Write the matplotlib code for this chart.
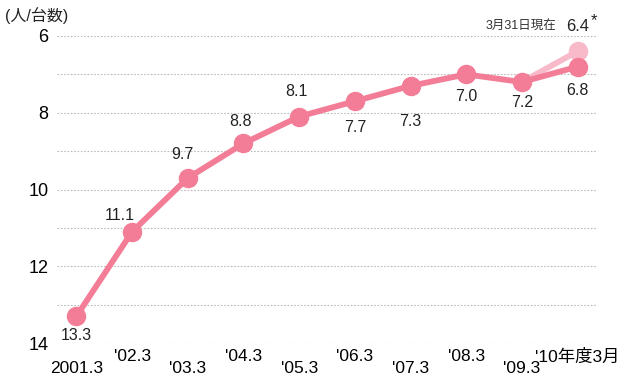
import matplotlib.pyplot as plt
from matplotlib.transforms import ScaledTranslation
import numpy as np

plt.rcParams['font.family'] = ['Liberation Sans', 'Noto Sans CJK JP']

# data
years = ['2001.3', "'02.3", "'03.3", "'04.3", "'05.3", "'06.3", "'07.3", "'08.3", "'09.3", "'10年度3月"]
values = [13.3, 11.1, 9.7, 8.8, 8.1, 7.7, 7.3, 7.0, 7.2, 6.8]
latest_value = 6.4
latest_note = '3月31日現在'

# label offsets in points (dx, dy)
label_offsets = [(0, -14), (-9, 12), (-4, 17), (-2, 16), (-2, 18), (0, -19),
                 (0, -26), (0, -16), (0, -15), (0, -17)]

MAIN = '#F37C97'
LIGHT = '#F8B9C9'

fig = plt.figure(figsize=(6.26, 3.76), dpi=100)
ax = fig.add_axes([57 / 626, 1 - 343 / 376, 540 / 626, 307 / 376])

x = np.arange(len(values))

# light line to the 3/31 value
ax.plot([x[-2], x[-1]], [values[-2], latest_value], color=LIGHT, lw=4.2,
        solid_capstyle='round', zorder=2)
ax.plot([x[-1]], [latest_value], 'o', color=LIGHT, ms=13, zorder=2)

ax.plot(x, values, color=MAIN, lw=4.2, marker='o', ms=13, mec=MAIN, mfc=MAIN,
        solid_capstyle='round', zorder=3)

for xi, v, (dx, dy) in zip(x, values, label_offsets):
    ax.annotate(f'{v:.1f}', (xi, v), xytext=(dx, dy), textcoords='offset points',
                ha='center', va='center', fontsize=11.5, color='#222222')

ax.annotate(f'{latest_value:.1f}', (x[-1], latest_value), xytext=(0, 18),
            textcoords='offset points', ha='center', va='center', fontsize=12, color='#222222')
ax.annotate('*', (x[-1], latest_value), xytext=(12, 22),
            textcoords='offset points', ha='center', va='center', fontsize=12, color='#222222')
ax.annotate(latest_note, (x[-1], latest_value), xytext=(-41, 18),
            textcoords='offset points', ha='center', va='center', fontsize=9, color='#333333')

ax.set_ylim(14, 6)
ax.set_xlim(-0.35, 9.35)
ax.set_yticks([6, 8, 10, 12, 14])
ax.set_yticklabels(['6', '8', '10', '12', '14'], fontsize=13)
ax.set_xticks(x)
ax.set_xticklabels(years, fontsize=12.5)
ax.tick_params(axis='both', length=0, which='both')
ax.tick_params(axis='y', pad=6)
ax.tick_params(axis='x', pad=4)

# stagger x labels
for i, lbl in enumerate(ax.get_xticklabels()):
    if i % 2 == 0:
        lbl.set_transform(lbl.get_transform() + ScaledTranslation(0, -0.12, fig.dpi_scale_trans))

for v in np.arange(6, 15, 1):
    ax.axhline(v, color='#BBBBBB', lw=0.8, ls=(0, (1.5, 1.5)), zorder=1)

for s in ax.spines.values():
    s.set_visible(False)

fig.text(5 / 626, 1 - 16 / 376, '(人/台数)', fontsize=11.5, va='center', ha='left', color='#222222')

fig.savefig('out.png', dpi=100)
